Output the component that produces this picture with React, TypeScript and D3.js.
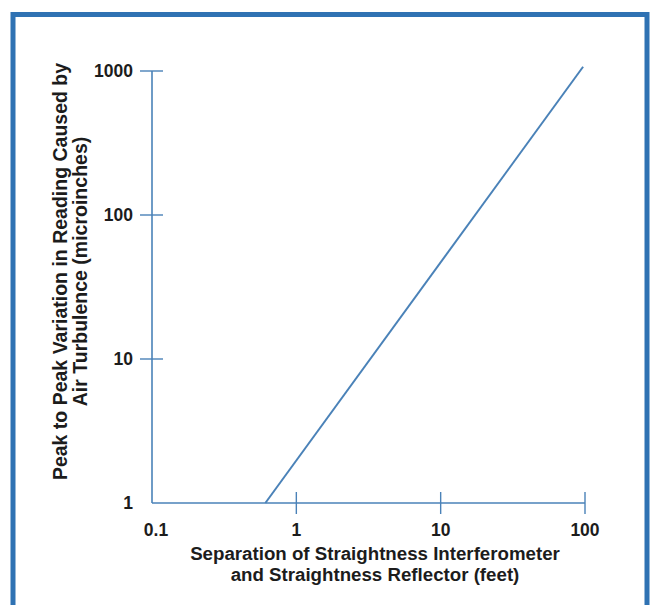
import React from 'react';
import * as d3 from 'd3';

// separation (feet) vs peak-to-peak variation (microinches)
const separation = [0.61, 97];
const variation = [1, 1070];
const xTicks = [0.1, 1, 10, 100];
const yTicks = [1, 10, 100, 1000];
const xTitle = ['Separation of Straightness Interferometer', 'and Straightness Reflector (feet)'];
const yTitle = ['Peak to Peak Variation in Reading Caused by', 'Air Turbulence (microinches)'];

const blue = '#2f72b3';
const axisBlue = '#4a82b8';
const font = '"Liberation Sans", Arial, Helvetica, sans-serif';

export default function App() {
  const width = 650;
  const height = 605;
  const x = d3.scaleLog().domain([0.1, 100]).range([152, 585]);
  const y = d3.scaleLog().domain([1, 1000]).range([503, 71]);
  const pts = separation.map((s, i) => [s, variation[i]] as [number, number]);
  const line = d3.line<[number, number]>().x(d => x(d[0])).y(d => y(d[1]));

  return (
    <svg width={width} height={height} style={{ position: 'absolute', left: 0, top: 0, background: '#fff' }}
      fontFamily={font}>
      {/* frame */}
      <path d="M13,605 V14.5 H647 V605" fill="none" stroke={blue} strokeWidth={5} />

      {/* axes */}
      <line x1={x(0.1)} y1={y(1)} x2={x(100)} y2={y(1)} stroke={axisBlue} strokeWidth={1.6} />
      <line x1={x(0.1)} y1={y(1)} x2={x(0.1)} y2={y(1000)} stroke={axisBlue} strokeWidth={1.6} />
      {xTicks.filter(t => t > 0.1).map(t => (
        <line key={'xt' + t} x1={x(t)} x2={x(t)} y1={y(1) - 11} y2={y(1) + 11} stroke={axisBlue} strokeWidth={1.4} />
      ))}
      {yTicks.filter(t => t > 1).map(t => (
        <line key={'yt' + t} x1={x(0.1) - 12} x2={x(0.1) + 11} y1={y(t)} y2={y(t)} stroke={axisBlue} strokeWidth={1.4} />
      ))}

      {/* tick labels */}
      {xTicks.map(t => (
        <text key={'xl' + t} x={x(t) + (t === 0.1 ? 4 : 0)} y={y(1) + 33} textAnchor="middle"
          fontSize={17.5} fontWeight="bold" fill="#1c1c1c">{t}</text>
      ))}
      {yTicks.map(t => (
        <text key={'yl' + t} x={x(0.1) - 19} y={y(t) + 6} textAnchor="end"
          fontSize={17.5} fontWeight="bold" fill="#1c1c1c">{t}</text>
      ))}

      {/* data line */}
      <path d={line(pts) ?? ''} fill="none" stroke={axisBlue} strokeWidth={2} />

      {/* axis titles */}
      {xTitle.map((s, i) => (
        <text key={'xtl' + i} x={375} y={560 + i * 21} textAnchor="middle" fontSize={18.7} fontWeight="bold" fill="#1c1c1c">{s}</text>
      ))}
      {yTitle.map((s, i) => (
        <text key={'ytl' + i} transform={`translate(${67 + i * 19.5},271.5) rotate(-90)`} textAnchor="middle"
          fontSize={19.5} fontWeight="bold" fill="#1c1c1c">{s}</text>
      ))}
    </svg>
  );
}
